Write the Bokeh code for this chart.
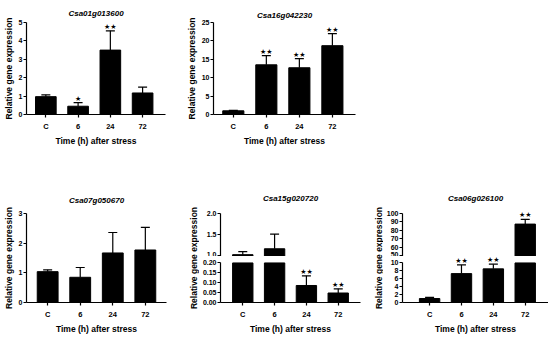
from bokeh.plotting import figure
from bokeh.models import Range1d, FixedTicker, ColumnDataSource, LabelSet, NumeralTickFormatter
from bokeh.layouts import row, column
from bokeh.core.properties import value
from bokeh.embed import file_html
from bokeh.resources import INLINE

# ---------------- data ----------------
categories = ["C", "6", "24", "72"]
x_title = "Time (h) after stress"
y_title = "Relative gene expression"

g1_name = "Csa01g013600"
g1_mean = [0.97, 0.45, 3.50, 1.17]
g1_sd = [0.10, 0.20, 1.05, 0.32]
g1_sig = ["", "*", "**", ""]
g1_ticks = [0, 1, 2, 3, 4, 5]

g2_name = "Csa16g042230"
g2_mean = [1.0, 13.5, 12.7, 18.7]
g2_sd = [0.1, 2.5, 2.5, 3.3]
g2_sig = ["", "**", "**", "**"]
g2_ticks = [0, 5, 10, 15, 20, 25]

g3_name = "Csa07g050670"
g3_mean = [1.04, 0.85, 1.67, 1.77]
g3_sd = [0.06, 0.33, 0.69, 0.76]
g3_sig = ["", "", "", ""]
g3_ticks = [0, 1, 2, 3]

g4_name = "Csa15g020720"
g4_mean = [1.02, 1.16, 0.086, 0.048]
g4_sd = [0.07, 0.35, 0.049, 0.021]
g4_sig = ["", "", "**", "**"]
g4_low_ticks = [0, 0.05, 0.10, 0.15, 0.20]
g4_high_ticks = [1.0, 1.5, 2.0]
g4_low_fmt = "0.00"
g4_high_fmt = "0.0"

g5_name = "Csa06g026100"
g5_mean = [1.0, 7.3, 8.5, 87.4]
g5_sd = [0.3, 2.2, 1.2, 5.6]
g5_sig = ["", "**", "**", "**"]
g5_low_ticks = [0, 2, 4, 6, 8, 10]
g5_high_ticks = [50, 60, 70, 80, 90, 100]
g5_low_fmt = "0"
g5_high_fmt = "0"

# ---------------- style ----------------
FONT = "Liberation Sans"
STAR_FONT = "DejaVu Sans"
INK = "black"
BAR_W = 0.64
AX_W = 1.2


def base_fig(w, h, left, right, top, bottom, xr, yr, xaxis=True):
    p = figure(width=w, height=h, x_range=Range1d(*xr), y_range=Range1d(*yr),
               min_border_left=left, min_border_right=right,
               min_border_top=top, min_border_bottom=bottom,
               x_axis_location="below" if xaxis else None,
               output_backend="svg", toolbar_location=None)
    p.grid.grid_line_color = None
    p.outline_line_color = None
    p.background_fill_color = "white"
    p.border_fill_color = "white"
    return p


def style_y(p, ticks, label=None, bounds=None, fmt=None):
    ax = p.yaxis[0]
    ax.ticker = FixedTicker(ticks=ticks)
    if fmt is not None:
        ax.formatter = NumeralTickFormatter(format=fmt)
    if bounds is not None:
        ax.bounds = bounds
    ax.axis_line_color = INK
    ax.axis_line_width = AX_W
    ax.major_tick_line_color = INK
    ax.major_tick_line_width = AX_W
    ax.major_tick_out = 3
    ax.major_tick_in = 0
    ax.minor_tick_line_color = None
    ax.major_label_text_font = FONT
    ax.major_label_text_font_style = "bold"
    ax.major_label_text_font_size = "7px"
    ax.major_label_text_color = INK
    ax.major_label_standoff = 1
    if label:
        ax.axis_label = label
        ax.axis_label_text_font = FONT
        ax.axis_label_text_font_style = "bold"
        ax.axis_label_text_font_size = "8.5px"
        ax.axis_label_text_color = INK
        ax.axis_label_standoff = 2


def style_x(p):
    ax = p.xaxis[0]
    ax.ticker = FixedTicker(ticks=list(range(len(categories))))
    ax.major_label_overrides = {i: c for i, c in enumerate(categories)}
    ax.axis_line_color = INK
    ax.axis_line_width = AX_W
    ax.major_tick_line_color = INK
    ax.major_tick_line_width = AX_W
    ax.major_tick_out = 3
    ax.major_tick_in = 0
    ax.minor_tick_line_color = None
    ax.major_label_text_font = FONT
    ax.major_label_text_font_style = "bold"
    ax.major_label_text_font_size = "7.5px"
    ax.major_label_text_color = INK
    ax.major_label_standoff = 4
    ax.axis_label = x_title
    ax.axis_label_text_font = FONT
    ax.axis_label_text_font_style = "bold"
    ax.axis_label_text_font_size = "8.5px"
    ax.axis_label_text_color = INK
    ax.axis_label_standoff = 2


def set_title(p, name, standoff):
    p.title.text = name
    p.title.text_font = FONT
    p.title.text_font_style = "bold italic"
    p.title.text_font_size = "8px"
    p.title.text_color = INK
    p.title.align = "center"
    p.title.standoff = standoff


def draw_bars(p, mean, sd, lo=None, hi_cap=None):
    # lo: bottom limit of an upper (broken) segment; hi_cap: top limit of a lower segment
    xs, tops, bots, ex, elo, ehi = [], [], [], [], [], []
    for i, (m, s) in enumerate(zip(mean, sd)):
        if lo is not None and m <= lo:
            continue
        xs.append(i)
        tops.append(m if hi_cap is None else min(m, hi_cap))
        bots.append(0 if lo is None else lo)
        if hi_cap is None or m + s <= hi_cap:
            ex.append(i)
            elo.append(m)
            ehi.append(m + s)
    bsrc = ColumnDataSource(dict(x=xs, top=tops, bot=bots))
    esrc = ColumnDataSource(dict(x=ex, lo=elo, hi=ehi))
    p.segment(x0="x", y0="lo", x1="x", y1="hi", source=esrc, line_color=INK, line_width=AX_W)
    p.scatter(x="x", y="hi", source=esrc, marker="dash", size=9, line_color=INK, line_width=AX_W)
    p.vbar(x="x", top="top", bottom="bot", width=BAR_W, source=bsrc, fill_color=INK, line_color=INK)


def draw_stars(p, mean, sd, sig, keep=lambda v: True):
    xs, ys, ts = [], [], []
    for i, (m, s, g) in enumerate(zip(mean, sd, sig)):
        if g and keep(m + s):
            xs.append(i)
            ys.append(m + s)
            ts.append(g.replace("*", "\u2605"))
    if xs:
        p.add_layout(LabelSet(x="x", y="y", text="t", source=ColumnDataSource(dict(x=xs, y=ys, t=ts)),
                              text_align="center", text_baseline="bottom", y_offset=0,
                              text_font=value(STAR_FONT), text_font_size="7px", text_color=INK))


def simple_panel(name, mean, sd, sig, ticks, w, h, left, right, top, bottom, xr, title_standoff):
    p = base_fig(w, h, left, right, top, bottom, xr, (ticks[0], ticks[-1]))
    style_y(p, ticks, y_title)
    style_x(p)
    set_title(p, name, title_standoff)
    draw_bars(p, mean, sd)
    draw_stars(p, mean, sd, sig)
    return p


def label_fig(w, h, top, bottom):
    p = figure(width=w, height=h, x_range=Range1d(0, 1), y_range=Range1d(0, 1),
               min_border_left=w - 1, min_border_right=0, min_border_top=top, min_border_bottom=bottom,
               x_axis_location=None, output_backend="svg", toolbar_location=None)
    p.grid.grid_line_color = None
    p.outline_line_color = None
    p.border_fill_color = "white"
    ax = p.yaxis[0]
    ax.ticker = FixedTicker(ticks=[])
    ax.axis_line_color = None
    ax.major_tick_line_color = None
    ax.minor_tick_line_color = None
    ax.major_tick_out = 0
    ax.major_label_standoff = 0
    ax.axis_label = y_title
    ax.axis_label_text_font = FONT
    ax.axis_label_text_font_style = "bold"
    ax.axis_label_text_font_size = "8.5px"
    ax.axis_label_text_color = INK
    ax.axis_label_standoff = 0
    return p


def broken_panel(name, mean, sd, sig, low_ticks, high_ticks, low_fmt, high_fmt,
                 high_px, low_px, w, left, right, xr):
    # upper segment: 47 px frame, top tick 4 px below the frame top, frame bottom 1 px under the lowest tick
    high_start = high_ticks[0] - 1 * high_px
    top_f = base_fig(w, 106, left, right, 59, 0, xr,
                     (high_start, high_start + 47 * high_px), xaxis=False)
    style_y(top_f, high_ticks, bounds=(high_start, high_ticks[-1]), fmt=high_fmt)
    set_title(top_f, name, 13)
    draw_bars(top_f, mean, sd, lo=high_start)
    draw_stars(top_f, mean, sd, sig, keep=lambda v: v > low_ticks[-1])

    # lower segment: 50 px frame, the top 7 px form the gap above the top tick
    low_f = base_fig(w, 80, left, right, 0, 30, xr, (low_ticks[0], 50 * low_px))
    style_y(low_f, low_ticks, bounds=(low_ticks[0], low_ticks[-1]), fmt=low_fmt)
    style_x(low_f)
    draw_bars(low_f, mean, sd, hi_cap=low_ticks[-1])
    draw_stars(low_f, mean, sd, sig, keep=lambda v: v <= low_ticks[-1])
    return column(top_f, low_f, spacing=0)


p1 = simple_panel(g1_name, g1_mean, g1_sd, g1_sig, g1_ticks, 178, 150, 22, 13, 22, 36, (-0.6, 3.71), 9)
p2 = simple_panel(g2_name, g2_mean, g2_sd, g2_sig, g2_ticks, 182, 150, 35, 5, 22, 35, (-0.6, 3.7), 5)
p3 = simple_panel(g3_name, g3_mean, g3_sd, g3_sig, g3_ticks, 178, 186, 23, 12, 63, 30, (-0.65, 3.65), 17)

lab4 = label_fig(21, 186, 63, 30)
col4 = broken_panel(g4_name, g4_mean, g4_sd, g4_sig, g4_low_ticks, g4_high_ticks, g4_low_fmt, g4_high_fmt,
                    1.0 / 42, 0.2 / 43, 171, 20, 10, (-0.7, 3.7))
lab5 = label_fig(13, 186, 63, 30)
col5 = broken_panel(g5_name, g5_mean, g5_sd, g5_sig, g5_low_ticks, g5_high_ticks, g5_low_fmt, g5_high_fmt,
                    50.0 / 42, 10.0 / 43, 165, 15, 0, (-0.85, 3.73))

root = column(row(p1, p2, spacing=0), row(p3, lab4, col4, lab5, col5, spacing=0), spacing=0)

open("out.html", "w").write(file_html(root, INLINE))
